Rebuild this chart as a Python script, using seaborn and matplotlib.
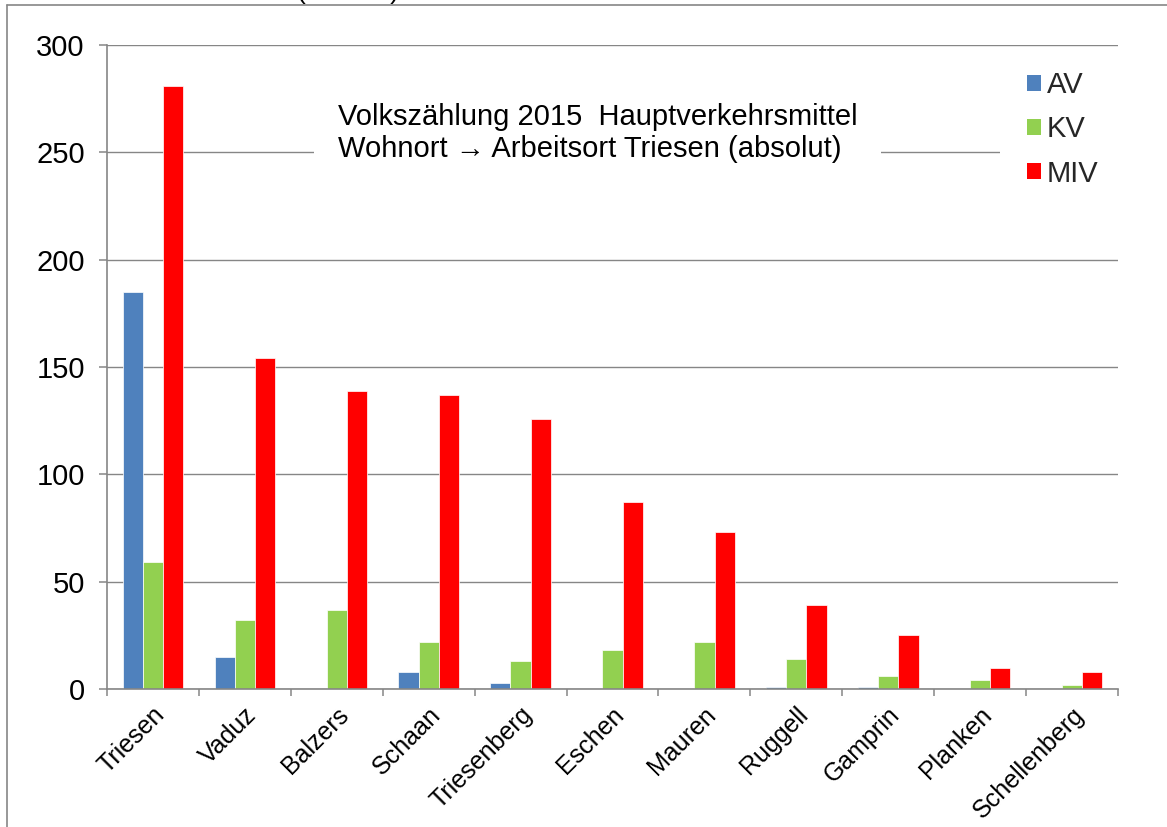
import matplotlib
matplotlib.use("Agg")
import matplotlib.pyplot as plt
import matplotlib.transforms as mtransforms
from matplotlib.patches import Patch, Rectangle
from matplotlib.lines import Line2D
import seaborn as sns
import pandas as pd

# ---- data ----
orte = ["Triesen", "Vaduz", "Balzers", "Schaan", "Triesenberg", "Eschen",
        "Mauren", "Ruggell", "Gamprin", "Planken", "Schellenberg"]
av = [185, 15, 0, 8, 3, 0, 0, 1, 1, 0, 0]
kv = [59, 32, 37, 22, 13, 18, 22, 14, 6, 4, 2]
miv = [281, 154, 139, 137, 126, 87, 73, 39, 25, 10, 8]
serien = ["AV", "KV", "MIV"]
farben = ["#4F81BD", "#92D050", "#FF0000"]
y_ticks = [0, 50, 100, 150, 200, 250, 300]
titel = "Volkszählung 2015  Hauptverkehrsmittel\nWohnort \u2192 Arbeitsort Triesen (absolut)"

df = pd.DataFrame({
    "Ort": orte * 3,
    "Serie": ["AV"] * len(orte) + ["KV"] * len(orte) + ["MIV"] * len(orte),
    "Wert": av + kv + miv,
})

sns.set_theme(style="white")
plt.rcParams["font.family"] = ["Liberation Sans", "DejaVu Sans"]

FS = 21
FSX = 18
W, H = 1167, 827
fig = plt.figure(figsize=(W / 100, H / 100), dpi=100)
fig.patch.set_facecolor("white")
ax = fig.add_axes([107 / W, 1 - 689 / H, (1118 - 107) / W, (689 - 45) / H])

sns.barplot(data=df, x="Ort", y="Wert", hue="Serie", order=orte,
            hue_order=serien, palette=farben, saturation=1, width=0.66,
            errorbar=None, edgecolor="white", linewidth=0.5, legend=False,
            ax=ax)

grey = "#868686"
ax.set_xlim(-0.5, len(orte) - 0.5)
ax.set_ylim(0, 300)
ax.set_yticks(y_ticks)
ax.set_yticklabels([str(v) for v in y_ticks], fontsize=FS, color="black")
ax.set_xlabel("")
ax.set_ylabel("")
ax.set_axisbelow(True)
ax.yaxis.grid(True, color=grey, linewidth=1.0)
ax.xaxis.grid(False)
for s in ["top", "right"]:
    ax.spines[s].set_visible(False)
for s in ["left", "bottom"]:
    ax.spines[s].set_color(grey)
    ax.spines[s].set_linewidth(1.2)

ax.tick_params(axis="y", which="major", direction="out", length=6,
               width=1.1, color=grey, pad=10, left=True)
# category boundary ticks
ax.set_xticks([i - 0.5 for i in range(len(orte) + 1)], minor=True)
ax.tick_params(axis="x", which="minor", direction="out", length=5,
               width=1.1, color=grey, bottom=True)
ax.tick_params(axis="x", which="major", length=0, pad=0, bottom=False)
ax.set_xticks(range(len(orte)))
ax.set_xticklabels(orte, fontsize=FSX, rotation=45, ha="right",
                   rotation_mode="anchor", va="center", color="black")
offset = mtransforms.ScaledTranslation(8 / 100, -22 / 100, fig.dpi_scale_trans)
for lab in ax.get_xticklabels():
    lab.set_transform(lab.get_transform() + offset)

# chart title inside the plot area with white background
ax.text(0.2285, 0.863, titel, transform=ax.transAxes, ha="left", va="center",
        fontsize=FS, linespacing=1.2, zorder=5, color="black",
        bbox=dict(facecolor="white", edgecolor="none", pad=17))

# legend with white background block
bg = Rectangle((1000 / W, 1 - 195 / H), (1121 - 1000) / W, (195 - 58) / H,
               transform=fig.transFigure, facecolor="white", edgecolor="none",
               zorder=2, clip_on=False)
ax.add_patch(bg)
handles = [Patch(facecolor=c, edgecolor="none") for c in farben]
ax.legend(handles, serien, loc="upper left",
          bbox_to_anchor=(1027 / W, 1 - 71 / H), bbox_transform=fig.transFigure,
          frameon=False, fontsize=FS, handlelength=0.48, handleheight=0.48,
          handletextpad=0.2, labelspacing=0.56, borderpad=0, borderaxespad=0)

# frame of the cropped chart and remnant of text above it
fig.add_artist(Line2D([7 / W, 7 / W], [0, 1 - 5 / H], color=grey, lw=1.2,
                      transform=fig.transFigure))
fig.add_artist(Line2D([7 / W, 1], [1 - 5 / H, 1 - 5 / H], color=grey, lw=1.2,
                      transform=fig.transFigure))
fig.text(296 / W, 1 + 1 / H, "(absolut)", fontsize=19, ha="left",
         va="baseline", color="black")

fig.savefig("out.png", dpi=100, facecolor="white")
